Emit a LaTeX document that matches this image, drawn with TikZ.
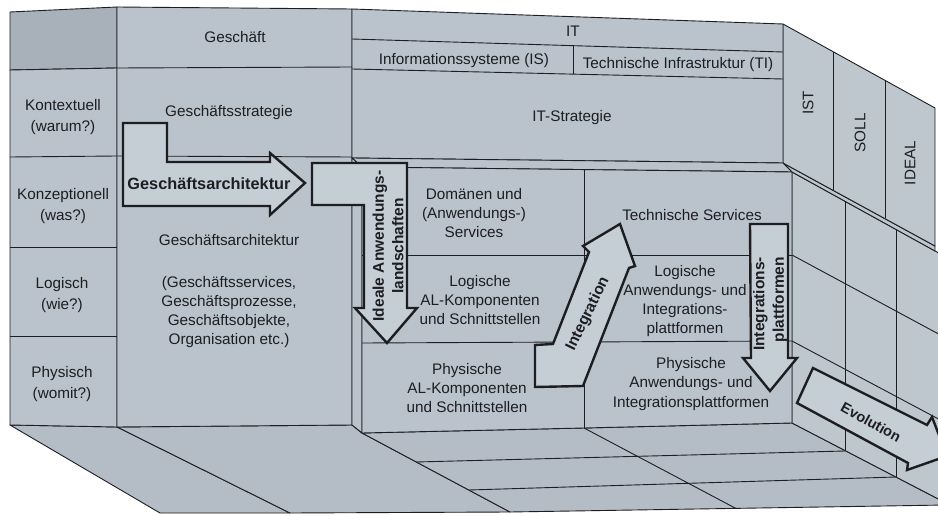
\documentclass[tikz,border=0pt]{standalone}
\usepackage{fontspec}
\setmainfont{Liberation Sans}
\definecolor{cellfill}{RGB}{186,195,203}
\definecolor{hdrfill}{RGB}{168,177,185}
\definecolor{sidefill}{RGB}{190,199,206}
\definecolor{floorfill}{RGB}{180,189,197}
\definecolor{arrowfill}{RGB}{198,206,213}
\definecolor{ink}{RGB}{30,30,34}
\tikzset{
  grid/.style={draw=ink, line width=0.9pt, line join=round},
  face/.style={grid, fill=cellfill},
  sideface/.style={grid, fill=sidefill},
  floorface/.style={grid, fill=floorfill},
  bigarrow/.style={draw=ink, line width=2.4pt, fill=arrowfill, line join=miter},
  txt/.style={font=\fontsize{15.3}{19.3}\selectfont, text=ink, align=center, inner sep=0pt},
  rowtxt/.style={txt, font=\fontsize{15.3}{21}\selectfont},
  lbl/.style={font=\bfseries\fontsize{15.5}{19.5}\selectfont, text=ink, align=center, inner sep=0pt}
}
\begin{document}
\begin{tikzpicture}[x=1pt,y=-1pt]
\useasboundingbox (0,0) rectangle (938,516);
\fill[white] (0,0) rectangle (938,516);
\begin{scope}
\clip (0,0) rectangle (938,516);
% ---------- floor ----------
\filldraw[floorface] (10,425) -- (117,427) -- (290,513) -- (160,513) -- cycle;
\filldraw[floorface] (117,427) -- (352,425) -- (362,433) -- (510,512) -- (290,513) -- cycle;
\filldraw[floorface] (362,433) -- (584,428) -- (792,423) -- (946,503) -- (946,505) -- (510,512) -- cycle;
\draw[grid] (584,428) -- (736,508.5);
\draw[grid] (416,462) -- (845,451);
\draw[grid] (469,490) -- (896,477);
% ---------- lower side panel ----------
\filldraw[sideface] (792,172) -- (946,257) -- (946,503) -- (792,423) -- cycle;
\draw[grid] (792,255) -- (946,338);
\draw[grid] (792,341) -- (946,423);
\draw[grid] (845,201) -- (845,451);
\draw[grid] (896,229) -- (896,477);
% ---------- shelf side strip and upper side panel ----------
\filldraw[sideface] (783,163) -- (935,246) -- (935,251) -- (792,172) -- cycle;
\filldraw[sideface] (783,24) -- (935,108) -- (935,246) -- (783,163) -- cycle;
\draw[grid] (833,52) -- (833,190);
\draw[grid] (885,80) -- (885,218);
% ---------- left block ----------
\filldraw[face, fill=hdrfill] (10,12) -- (117,7) -- (117,68) -- (10,70) -- cycle;
\filldraw[face] (10,70) -- (117,68) -- (117,427) -- (10,425) -- cycle;
\draw[grid] (10,157) -- (117,156);
\draw[grid] (10,247) -- (117,247);
\draw[grid] (10,336) -- (117,336);
\filldraw[face] (117,7) -- (352,9) -- (352,425) -- (117,427) -- cycle;
\draw[grid] (117,68) -- (352,67);
\draw[grid] (117,156) -- (352,157);
% ---------- IT upper block ----------
\filldraw[face] (352,9) -- (783,24) -- (783,163) -- (352,158) -- cycle;
\draw[grid] (352,39) -- (783,52);
\draw[grid] (352,69) -- (783,79);
\draw[grid] (573,45.7) -- (573,74.1);
% ---------- shelf and recessed face ----------
\filldraw[face] (352,158) -- (783,163) -- (792,172) -- (362,167) -- cycle;
\filldraw[face] (352,158) -- (362,167) -- (362,433) -- (352,425) -- cycle;
\filldraw[face] (362,167) -- (792,172) -- (792,423) -- (584,428) -- (362,433) -- cycle;
\draw[grid] (362,255) -- (792,255);
\draw[grid] (362,343) -- (792,341);
\draw[grid] (584,170) -- (584,428);
% ---------- big arrows ----------
\filldraw[bigarrow] (123,123) -- (167,123) -- (167,162) -- (270,162) -- (270,153) -- (305,183)
  -- (270,215) -- (270,206) -- (123,206) -- cycle;
\filldraw[bigarrow] (312,163) -- (407,163) -- (407,308) -- (417,308) -- (387,343) -- (355,308)
  -- (364,308) -- (364,205) -- (312,205) -- cycle;
\filldraw[bigarrow] (535,387) -- (583,386) -- (629,268) -- (635,266) -- (620,224) -- (583,246)
  -- (589,252) -- (553,344) -- (535,345) -- cycle;
\filldraw[bigarrow] (750,224) -- (788,224) -- (788,358) -- (797,358) -- (770,391) -- (743,358)
  -- (751,358) -- cycle;
\filldraw[bigarrow] (813,368) -- (927,425) -- (932,417) -- (947,456) -- (907,470) -- (908,463)
  -- (797,403) -- cycle;
\end{scope}
% ---------- texts ----------
\node[txt] (geschaeft) at (235,37) {Geschäft};
\node[txt] (it) at (573,31) {IT};
\node[txt] (is) at (464,61) {Informationssysteme (IS)};
\node[txt] (ti) at (678,65) {Technische Infrastruktur (TI)};
\node[txt] (itstrat) at (572,118) {IT-Strategie};
\node[rowtxt] (kontext) at (63,117) {Kontextuell\\(warum?)};
\node[rowtxt] (konzept) at (63,206) {Konzeptionell\\(was?)};
\node[rowtxt] (logisch) at (62,295) {Logisch\\(wie?)};
\node[rowtxt] (physisch) at (62,384) {Physisch\\(womit?)};
\node[txt] (gstrat) at (229,113) {Geschäftsstrategie};
\node[txt] (garch) at (229,240) {Geschäftsarchitektur};
\node[txt] (glist) at (229,312) {(Geschäftsservices,\\Geschäftsprozesse,\\Geschäftsobjekte,\\Organisation etc.)};
\node[txt] (dom) at (474,213) {Domänen und\\(Anwendungs-)\\Services};
\node[txt] (logal) at (480,300) {Logische\\AL-Komponenten\\und Schnittstellen};
\node[txt] (phyal) at (467,388) {Physische\\AL-Komponenten\\und Schnittstellen};
\node[txt] (techsvc) at (692,215) {Technische Services};
\node[txt] (logaw) at (685,301) {Logische\\Anwendungs- und\\Integrations-\\plattformen};
\node[txt] (phyaw) at (691,384) {Physische\\Anwendungs- und\\Integrationsplattformen};
\node[txt, rotate=90] (ist) at (808,103) {IST};
\node[txt, rotate=90] (soll) at (860,133) {SOLL};
\node[txt, rotate=90] (ideal) at (910,163) {IDEAL};
% arrow labels
\node[lbl, font=\bfseries\fontsize{16.3}{19}\selectfont] (lblga) at (209,184) {Geschäftsarchitektur};
\node[lbl, rotate=90] (lblideal) at (388,246) {Ideale Anwendungs-\\landschaften};
\node[lbl, rotate=64] (lblint) at (588,314) {Integration};
\node[lbl, rotate=90, align=right] (lblip) at (770,304) {Integrations-\\plattformen};
\node[lbl, rotate=-29, font=\bfseries\fontsize{14.5}{17}\selectfont] (lblevo) at (871,422) {Evolution};
\end{tikzpicture}
\end{document}
